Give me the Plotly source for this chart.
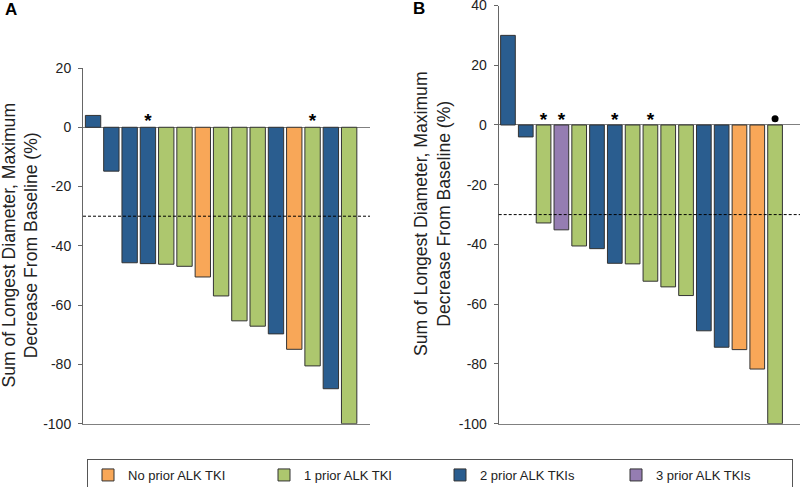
import plotly.graph_objects as go

# ---------------- data ----------------
categories = ["No prior ALK TKI", "1 prior ALK TKI", "2 prior ALK TKIs", "3 prior ALK TKIs"]
cat_colors = ["#F8A758", "#ADC76E", "#2A5D8F", "#957DB2"]

a_values = [4.0, -14.8, -45.7, -46.0, -46.2, -46.9, -50.5, -56.9, -65.3, -67.1, -69.7, -74.9, -80.5, -88.2, -100.0]
a_groups = [2, 2, 2, 2, 1, 1, 0, 1, 1, 1, 2, 0, 1, 2, 1]
a_star = [3, 12]

b_values = [30.0, -4.0, -32.8, -35.1, -40.5, -41.4, -46.3, -46.5, -52.3, -54.2, -57.1, -68.9, -74.4, -75.2, -81.7, -100.0]
b_groups = [2, 2, 1, 3, 1, 2, 2, 1, 1, 1, 1, 2, 2, 0, 0, 1]
b_star = [2, 3, 6, 8]
b_dot = [15]

a_ticks = [20, 0, -20, -40, -60, -80, -100]
a_ticktext = ["20", "0", "-20", "-40", "-60", "-80", "-100"]
b_ticks = [40, 20, 0, -20, -40, -60, -80, -100]
b_ticktext = ["40", "20", "0", "-20", "-40", "-60", "-80", "-100"]

threshold = -30
y_title = "Sum of Longest Diameter, Maximum<br>Decrease From Baseline (%)"

# ---------------- figure ----------------
W, H = 800, 487
FONT = "Arial, Liberation Sans, sans-serif"
fig = go.Figure()

shown = set()


def add_panel(values, groups, xa, ya, width):
    for g in range(len(categories)):
        xs = [i for i, gg in enumerate(groups) if gg == g]
        if not xs:
            continue
        fig.add_trace(go.Bar(
            x=xs, y=[values[i] for i in xs],
            name=categories[g], legendgroup=categories[g],
            showlegend=(g not in shown),
            marker=dict(color=cat_colors[g], line=dict(color="#333333", width=1)),
            width=width, xaxis=xa, yaxis=ya, hoverinfo="x+y",
        ))
        shown.add(g)


add_panel(a_values, a_groups, "x", "y", 0.84)
add_panel(b_values, b_groups, "x2", "y2", 0.825)

# reorder so legend order = categories order
fig.data = tuple(sorted(fig.data, key=lambda t: (not t.showlegend, categories.index(t.name))))

star_font = dict(family=FONT, size=19, color="black", weight="bold")
fig.add_trace(go.Scatter(x=a_star, y=[1.6] * len(a_star), mode="text", text=["*"] * len(a_star),
                         textfont=star_font, showlegend=False, xaxis="x", yaxis="y", hoverinfo="skip"))
fig.add_trace(go.Scatter(x=b_star, y=[1.2] * len(b_star), mode="text", text=["*"] * len(b_star),
                         textfont=star_font, showlegend=False, xaxis="x2", yaxis="y2", hoverinfo="skip"))
fig.add_trace(go.Scatter(x=b_dot, y=[2.1] * len(b_dot), mode="markers",
                         marker=dict(symbol="circle", size=7, color="black"),
                         showlegend=False, xaxis="x2", yaxis="y2", hoverinfo="skip"))

bottom = 1 - 423.7 / H
axis_color = "#666666"
common_y = dict(showgrid=False, showline=True, linecolor=axis_color, linewidth=1,
                ticks="outside", ticklen=4, tickcolor=axis_color, tickwidth=1,
                zeroline=True, zerolinecolor="#808080", zerolinewidth=1,
                tickfont=dict(family=FONT, size=14, color="#222222"),
                ticklabelstandoff=4, ticklabeloverflow="allow",
                automargin=False, fixedrange=True)
common_x = dict(showgrid=False, showline=True, linecolor="#808080", linewidth=1,
                showticklabels=False, ticks="", zeroline=False, automargin=False, fixedrange=True)

fig.update_layout(
    width=W, height=H,
    margin=dict(l=0, r=0, t=0, b=0, autoexpand=False),
    paper_bgcolor="white", plot_bgcolor="white",
    barmode="overlay",
    font=dict(family=FONT, size=14, color="#222222"),
    xaxis=dict(domain=[83 / W, 370 / W], range=[-0.55, 15.14], anchor="y", **common_x),
    yaxis=dict(domain=[bottom, 1 - 68 / H], range=[-100, 20], anchor="x",
               tickvals=a_ticks, ticktext=a_ticktext, **common_y),
    xaxis2=dict(domain=[498.7 / W, 1.0], range=[-0.52, 16.4], anchor="y2", **common_x),
    yaxis2=dict(domain=[bottom, 1 - 5.5 / H], range=[-100, 40], anchor="x2",
                tickvals=b_ticks, ticktext=b_ticktext, **common_y),
    legend=dict(orientation="h", x=440 / W, xanchor="center", y=1 - 459 / H, yanchor="top",
                bordercolor="#555555", borderwidth=1, bgcolor="white",
                font=dict(family=FONT, size=13, color="#222222"),
                entrywidth=131, traceorder="normal", itemclick=False, itemdoubleclick=False),
    shapes=[
        dict(type="line", xref="x domain", yref="y", x0=0, x1=1, y0=threshold, y1=threshold,
             line=dict(color="black", width=1, dash="3px,2px"), layer="above"),
        dict(type="line", xref="x2 domain", yref="y2", x0=0, x1=1, y0=threshold, y1=threshold,
             line=dict(color="black", width=1, dash="3px,2px"), layer="above"),
    ],
    annotations=[
        dict(text=y_title, x=20.5 / W, y=1 - 245 / H, xref="paper", yref="paper", textangle=-90,
             xanchor="center", yanchor="middle", showarrow=False,
             font=dict(family=FONT, size=17.6, color="#222222")),
        dict(text=y_title, x=433 / W, y=1 - 214 / H, xref="paper", yref="paper", textangle=-90,
             xanchor="center", yanchor="middle", showarrow=False,
             font=dict(family=FONT, size=17.6, color="#222222")),
        dict(text="<b>A</b>", x=3 / W, y=1 - 10 / H, xref="paper", yref="paper",
             xanchor="left", yanchor="middle", showarrow=False,
             font=dict(family=FONT, size=17, color="black")),
        dict(text="<b>B</b>", x=411 / W, y=1 - 9 / H, xref="paper", yref="paper",
             xanchor="left", yanchor="middle", showarrow=False,
             font=dict(family=FONT, size=17, color="black")),
    ],
)

fig.write_html("out.html",
               config={"displayModeBar": False},
               post_script="document.body.style.margin='0px';document.body.style.overflow='hidden';")
